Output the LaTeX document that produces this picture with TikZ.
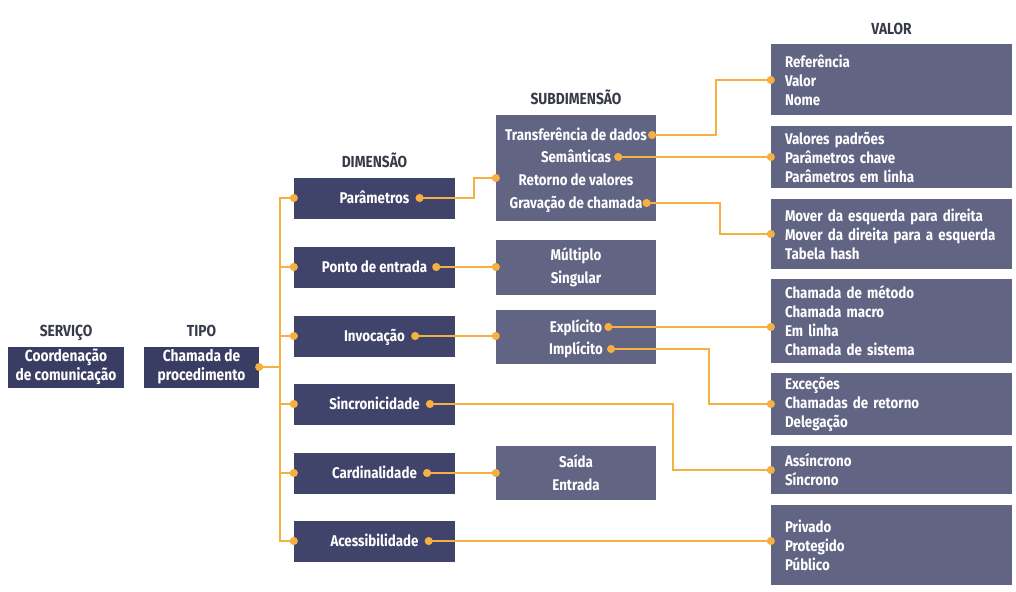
\documentclass[tikz,border=0pt]{standalone}
\usepackage{fontspec}
\setmainfont{Fira Sans}[FakeStretch=0.86]
\usetikzlibrary{arrows.meta, calc, positioning}
\definecolor{navy}{RGB}{57,61,99}
\definecolor{dimnavy}{RGB}{64,68,106}
\definecolor{slate}{RGB}{98,100,132}
\definecolor{gold}{RGB}{245,176,65}
\definecolor{headgray}{RGB}{55,58,72}
\tikzstyle{navybox} = [rectangle, inner sep=0pt, fill=navy, text=white, align=center, minimum height=41pt,
    font=\bfseries\fontsize{16}{19}\selectfont]
\tikzstyle{dimbox} = [rectangle, fill=dimnavy, minimum width=161pt, minimum height=41pt]
\tikzstyle{subbox} = [rectangle, inner sep=0pt, fill=slate, text=white, align=center, minimum width=160pt,
    font=\bfseries\fontsize{15.5}{23}\selectfont]
\tikzstyle{valbox} = [rectangle, inner ysep=0pt, inner xsep=14pt, fill=slate, text=white, text width=213pt, align=left,
    font=\bfseries\fontsize{15.5}{19}\selectfont]
\tikzstyle{boxtext} = [inner sep=0pt, text height=12pt, text depth=2pt, text=white, font=\bfseries\fontsize{15.5}{18}\selectfont]
\tikzstyle{head} = [inner sep=0pt, text depth=0pt, text=headgray, font=\bfseries\fontsize{16}{18}\selectfont]
\tikzstyle{line} = [draw=gold, line width=2pt]
\tikzstyle{enddot} = [-{Circle[length=8pt]}, shorten >=-4pt]
\tikzstyle{bothdots} = [{Circle[length=8pt]}-{Circle[length=8pt]}, shorten <=-4pt, shorten >=-4pt]
\begin{document}
\begin{tikzpicture}[x=1pt, y=-1pt]
    \useasboundingbox (0,0) rectangle (1016,591);

    % Place nodes
    \node [navybox, minimum width=116pt] (serv) at (66,367) {Coordenação\\de comunicação};
    \node [navybox, minimum width=115pt] (tipo) at (201.5,367) {Chamada de\\procedimento};

    \node [dimbox] (param) at (374.5,198) {};
    \node [dimbox] (ponto) at (374.5,267) {};
    \node [dimbox] (invoc) at (374.5,336) {};
    \node [dimbox] (sinc) at (374.5,404) {};
    \node [dimbox] (card) at (374.5,473) {};
    \node [dimbox] (aces) at (374.5,541) {};
    \node [boxtext] (paramt) at (param) {Parâmetros};
    \node [boxtext] (pontot) at (ponto) {Ponto de entrada};
    \node [boxtext] (invoct) at (invoc) {Invocação};
    \node [boxtext] (sinct) at (sinc) {Sincronicidade};
    \node [boxtext] (cardt) at (card) {Cardinalidade};
    \node [boxtext] (acest) at (aces) {Acessibilidade};

    \node [subbox, minimum height=106pt] (sdados) at (576,168) {};
    \node [boxtext] (trans) at (576,135) {Transferência de dados};
    \node [boxtext] (sem) at (576,157) {Semânticas};
    \node [boxtext] (ret) at (576,180) {Retorno de valores};
    \node [boxtext] (grav) at (576,203) {Gravação de chamada};
    \node [subbox, minimum height=55pt] (sentrada) at (576,267) {Múltiplo\\Singular};
    \node [subbox, minimum height=54pt] (sinvoc) at (576,337) {};
    \node [boxtext] (expl) at (576,327) {Explícito};
    \node [boxtext] (impl) at (576,349) {Implícito};
    \node [subbox, minimum height=54pt] (scard) at (576,473) {Saída\\Entrada};

    \node [valbox, minimum height=71pt] (vpass) at (891.5,80) {Referência\\Valor\\Nome};
    \node [valbox, minimum height=62pt] (vsem) at (891.5,157) {Valores padrões\\Parâmetros chave\\Parâmetros em linha};
    \node [valbox, minimum height=70pt] (vgrav) at (891.5,234) {Mover da esquerda para direita\\Mover da direita para a esquerda\\Tabela hash};
    \node [valbox, minimum height=84pt] (vexpl) at (891.5,321) {Chamada de método\\Chamada macro\\Em linha\\Chamada de sistema};
    \node [valbox, minimum height=62pt] (vimpl) at (891.5,404) {Exceções\\Chamadas de retorno\\Delegação};
    \node [valbox, minimum height=48pt] (vsinc) at (891.5,470) {Assíncrono\\Síncrono};
    \node [valbox, minimum height=80pt] (vaces) at (891.5,545) {Privado\\Protegido\\Público};

    % Column heads
    \node [head, above=10pt of serv] (hserv) {SERVIÇO};
    \node [head, above=10pt of tipo] (htipo) {TIPO};
    \node [head, above=10pt of param] (hdim) {DIMENSÃO};
    \node [head, above=10pt of sdados] (hsub) {SUBDIMENSÃO};
    \node [head, above=10pt of vpass] (hval) {VALOR};

    % Dot points
    \coordinate (trunk) at ($(tipo.east)+(21,0)$);
    \coordinate (paramdot) at ([xshift=10pt]paramt.east);
    \coordinate (pontodot) at ([xshift=9pt]pontot.east);
    \coordinate (invocdot) at ([xshift=10pt]invoct.east);
    \coordinate (sincdot) at ([xshift=10pt]sinct.east);
    \coordinate (carddot) at ([xshift=10pt]cardt.east);
    \coordinate (acesdot) at ([xshift=10pt]acest.east);
    \coordinate (transdot) at ([xshift=5pt]trans.east);
    \coordinate (semdot) at ([xshift=7pt]sem.east);
    \coordinate (gravdot) at ([xshift=4pt]grav.east);
    \coordinate (expldot) at ([xshift=6pt]expl.east);
    \coordinate (impldot) at ([xshift=8pt]impl.east);
    \coordinate (retin) at (sdados.west |- 0,178);

    % Draw edges
    \path [line, {Circle[length=8pt]}-, shorten <=-4pt] (tipo.east) -- (trunk);
    \path [line, enddot] (trunk) |- (param.west);
    \path [line, enddot] (trunk) |- (ponto.west);
    \path [line, enddot] (trunk) |- (invoc.west);
    \path [line, enddot] (trunk) |- (sinc.west);
    \path [line, enddot] (trunk) |- (card.west);
    \path [line, enddot] (trunk) |- (aces.west);

    \path [line, bothdots] (paramdot) -| ($(retin)+(-22,0)$) -- (retin);
    \path [line, bothdots] (pontodot) -- (pontodot -| sentrada.west);
    \path [line, bothdots] (invocdot) -- (invocdot -| sinvoc.west);
    \path [line, bothdots] (sincdot) -| ($(vsinc.west)+(-98,0)$) -- (vsinc.west);
    \path [line, bothdots] (carddot) -- (carddot -| scard.west);
    \path [line, bothdots] (acesdot) -- (acesdot -| vaces.west);

    \path [line, bothdots] (transdot) -| ($(vpass.west)+(-55,0)$) -- (vpass.west);
    \path [line, bothdots] (semdot) -- (semdot -| vsem.west);
    \path [line, bothdots] (gravdot) -| ($(vgrav.west)+(-51,0)$) -- (vgrav.west);
    \path [line, bothdots] (expldot) -- (expldot -| vexpl.west);
    \path [line, bothdots] (impldot) -| ($(vimpl.west)+(-62,0)$) -- (vimpl.west);

\end{tikzpicture}
\end{document}
